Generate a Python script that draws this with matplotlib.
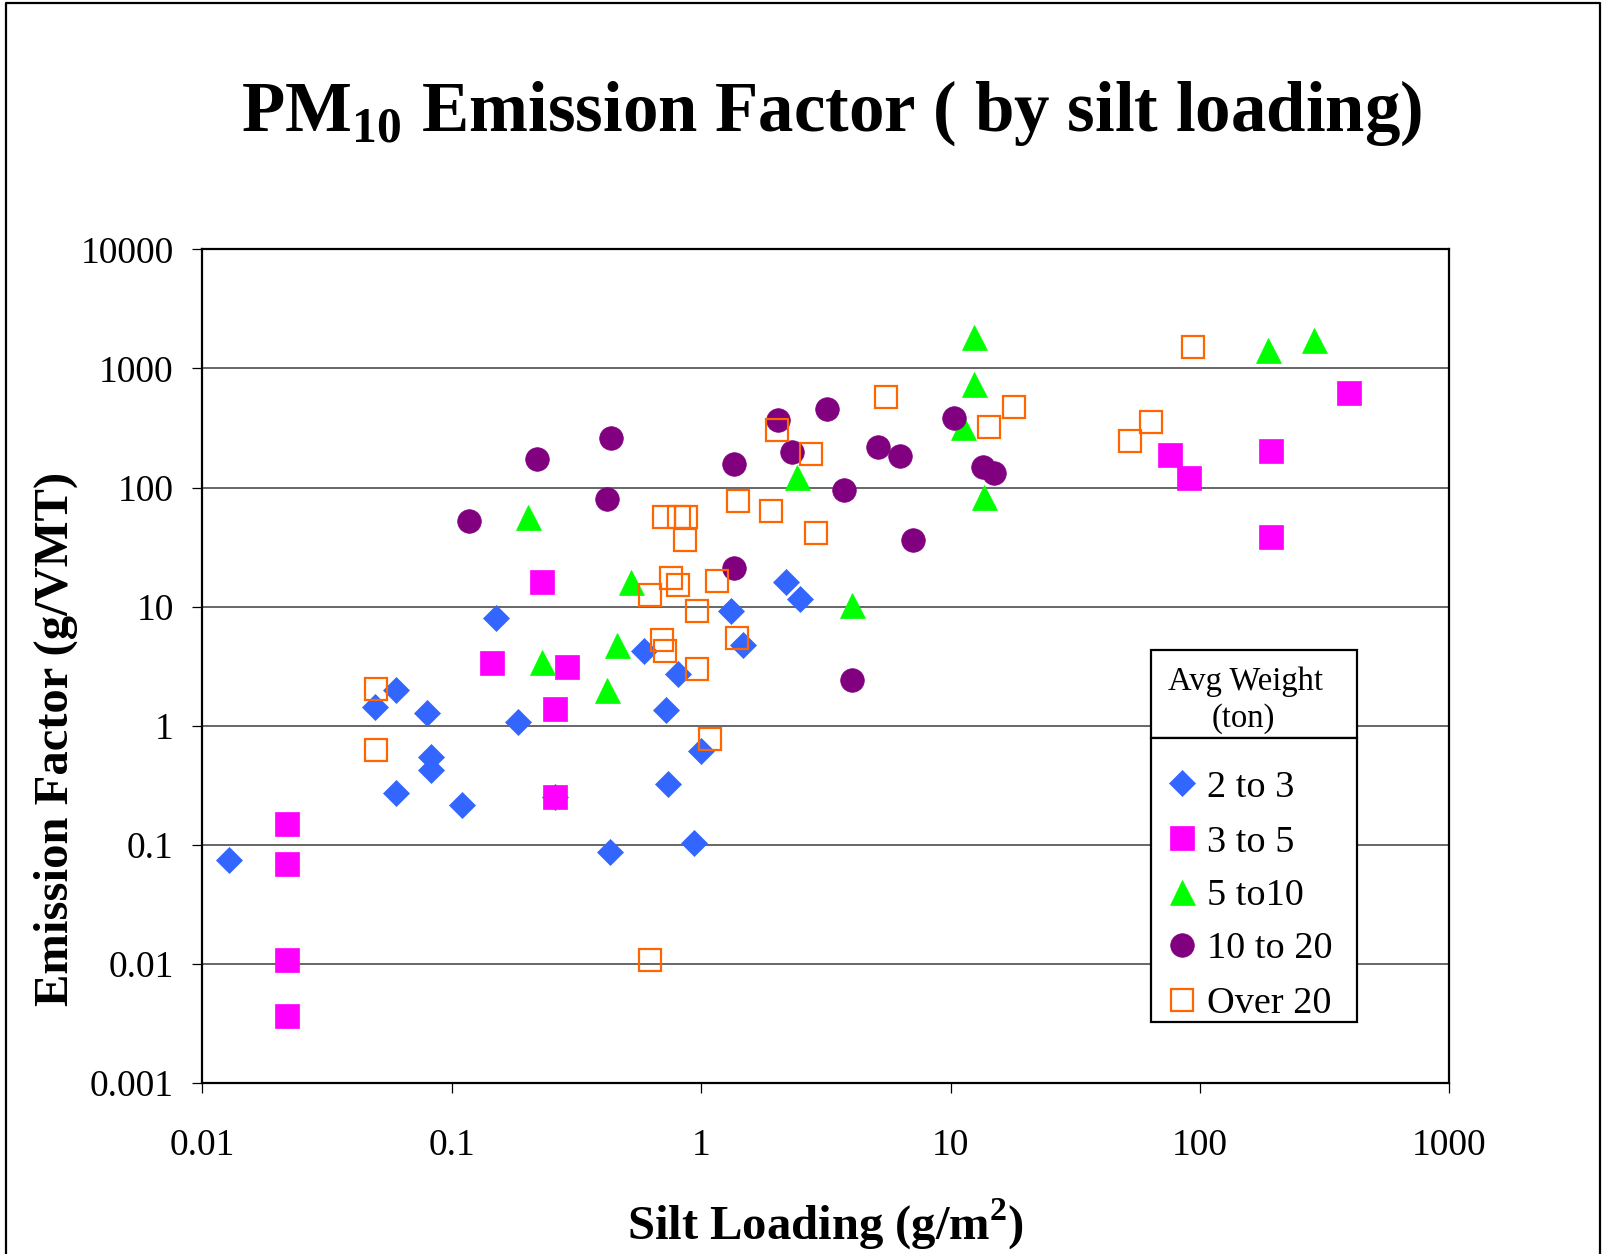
import matplotlib
matplotlib.use("Agg")
import matplotlib.pyplot as plt
from matplotlib.lines import Line2D
from matplotlib.patches import Rectangle
from matplotlib.ticker import FixedLocator, FixedFormatter, NullLocator

plt.rcParams["font.family"] = ["Liberation Serif", "DejaVu Serif"]
plt.rcParams["mathtext.fontset"] = "custom"
plt.rcParams["mathtext.rm"] = "Liberation Serif"
plt.rcParams["mathtext.bf"] = "Liberation Serif:bold"

# ---------------- data ----------------
series_names = ["2 to 3", "3 to 5", "5 to10", "10 to 20", "Over 20"]

blue_x = [0.0128, 0.0493, 0.0598, 0.0598, 0.0798, 0.0824, 0.0824, 0.110, 0.151, 0.185, 0.259,
          0.433, 0.59, 0.724, 0.74, 0.811, 0.933, 0.996, 1.32, 1.47, 2.18, 2.49]
blue_y = [0.0745, 1.44, 2.0, 0.27, 1.29, 0.55, 0.425, 0.216, 7.97, 1.08, 0.25,
          0.0875, 4.2, 1.36, 0.327, 2.70, 0.1035, 0.614, 9.19, 4.76, 16.2, 11.6]

magenta_x = [0.0218, 0.0218, 0.0218, 0.0218, 0.1456, 0.2296, 0.259, 0.259, 0.291,
             76.1, 90.7, 193, 193, 397]
magenta_y = [0.149, 0.0686, 0.0108, 0.00365, 3.38, 16.0, 1.37, 0.253, 3.13,
             186, 120, 204, 38.2, 625]

green_x = [0.203, 0.2296, 0.418, 0.459, 0.524, 2.42, 4.04, 11.25, 12.4, 12.4, 13.6, 188, 286]
green_y = [56.9, 3.43, 2.0, 4.76, 16.2, 123, 10.3, 324, 1846, 740, 82.8, 1436, 1731]

purple_x = [0.117, 0.219, 0.418, 0.436, 1.35, 1.35, 2.04, 2.31, 3.21, 3.75, 4.04, 5.11,
            6.27, 7.09, 10.3, 13.5, 14.9]
purple_y = [52.6, 173, 79.6, 262, 157, 21.2, 369, 200, 454, 95.3, 2.42, 220,
            185, 36.2, 381, 150, 132]

orange_x = [0.0496, 0.0496, 0.624, 0.624, 0.695, 0.716, 0.710, 0.815, 0.867, 0.859, 0.755,
            0.811, 0.966, 0.966, 1.087, 1.155, 1.39, 1.41, 1.90, 2.01, 2.77, 2.89, 5.50,
            14.3, 17.9, 52.5, 63.5, 93.5]
orange_y = [2.03, 0.625, 0.0108, 12.5, 5.21, 4.27, 56.2, 56.2, 56.2, 36.0, 17.3,
            15.2, 9.19, 2.98, 0.78, 16.4, 5.48, 77.5, 63.8, 304, 191, 41.2, 572,
            324, 477, 245, 355, 1521]

x_ticks = [0.01, 0.1, 1, 10, 100, 1000]
x_tick_labels = ["0.01", "0.1", "1", "10", "100", "1000"]
y_ticks = [0.001, 0.01, 0.1, 1, 10, 100, 1000, 10000]
y_tick_labels = ["0.001", "0.01", "0.1", "1", "10", "100", "1000", "10000"]

# ---------------- styles ----------------
styles = [
    dict(marker="D", markersize=12.8, color="#3366FF", markeredgecolor="#3366FF", markeredgewidth=0.5),
    dict(marker="s", markersize=17.5, color="#FF00FF", markeredgecolor="#FF00FF", markeredgewidth=0.5),
    dict(marker="^", markersize=18.0, color="#00FF00", markeredgecolor="#00FF00", markeredgewidth=0.5),
    dict(marker="o", markersize=17.0, color="#800080", markeredgecolor="#800080", markeredgewidth=0.5),
    dict(marker="s", markersize=15.6, color="#FF6600", markerfacecolor="none",
         markeredgecolor="#FF6600", markeredgewidth=1.6),
]

W, H = 1604, 1254
fig = plt.figure(figsize=(W / 100, H / 100), dpi=100)


def fx(px):
    return px / W


def fy(py):
    return 1 - py / H


L, R, T, B = 202.3, 1449.3, 249.3, 1083.0
ax = fig.add_axes([fx(L), fy(B), (R - L) / W, (B - T) / H])
ax.set_xscale("log")
ax.set_yscale("log")
ax.set_xlim(0.01, 1000)
ax.set_ylim(0.001, 10000)

all_data = [(blue_x, blue_y), (magenta_x, magenta_y), (green_x, green_y),
            (purple_x, purple_y), (orange_x, orange_y)]
for (xs, ys), st, name in zip(all_data, styles, series_names):
    ax.plot(xs, ys, linestyle="none", label=name, zorder=3, **st)

ax.xaxis.set_major_locator(FixedLocator(x_ticks))
ax.xaxis.set_major_formatter(FixedFormatter(x_tick_labels))
ax.yaxis.set_major_locator(FixedLocator(y_ticks))
ax.yaxis.set_major_formatter(FixedFormatter(y_tick_labels))
ax.xaxis.set_minor_locator(NullLocator())
ax.yaxis.set_minor_locator(NullLocator())

ax.yaxis.grid(True, color="#5a5a5a", linewidth=1.3)
ax.set_axisbelow(True)
for sp in ax.spines.values():
    sp.set_linewidth(1.6)
    sp.set_color("black")
ax.tick_params(axis="both", direction="out", length=7.5, width=0.9, labelsize=27)
ax.tick_params(axis="x", pad=25)
ax.tick_params(axis="y", pad=13)

# ---------------- titles ----------------
fig.text(fx(831.8), fy(131), r"PM$_{\mathbf{10}}$ Emission Factor ( by silt loading)",
         ha="center", va="baseline", fontsize=51, fontweight="bold")
fig.text(fx(825.8), fy(1240), r"Silt Loading (g/m$^{\mathbf{2}}$)",
         ha="center", va="baseline", fontsize=35, fontweight="bold")
fig.text(fx(56), fy(739), "Emission Factor (g/VMT)", rotation=90,
         ha="center", va="center", fontsize=35, fontweight="bold")

# ---------------- legend (manual, Excel style) ----------------
lx0, lx1 = 1151.0, 1356.7
ly0, ly_sep, ly1 = 650.0, 738.3, 1022.3
fig.add_artist(Rectangle((fx(lx0), fy(ly_sep)), (lx1 - lx0) / W, (ly_sep - ly0) / H,
                         transform=fig.transFigure, facecolor="white", edgecolor="black",
                         linewidth=1.6, zorder=5))
fig.add_artist(Rectangle((fx(lx0), fy(ly1)), (lx1 - lx0) / W, (ly1 - ly_sep) / H,
                         transform=fig.transFigure, facecolor="white", edgecolor="black",
                         linewidth=1.6, zorder=5))
fig.text(fx(1246), fy(690), "Avg Weight", ha="center", va="baseline", fontsize=23.5, zorder=6)
fig.text(fx(1243), fy(727), "(ton)", ha="center", va="baseline", fontsize=23.5, zorder=6)

rows = [783.3, 838.3, 891.7, 945.0, 1000.0]
for st, name, ry in zip(styles, series_names, rows):
    fig.add_artist(Line2D([fx(1182.3)], [fy(ry)], transform=fig.transFigure,
                          linestyle="none", zorder=6, **st))
    fig.text(fx(1206.7), fy(ry + 13.4), name, ha="left", va="baseline", fontsize=27.5, zorder=6)

# ---------------- outer frame ----------------
fig.add_artist(Line2D([fx(6), fx(6), fx(1600), fx(1600)], [0, fy(3), fy(3), 0],
                      transform=fig.transFigure, color="black", linewidth=1.6))

fig.savefig("out.png", dpi=100)
